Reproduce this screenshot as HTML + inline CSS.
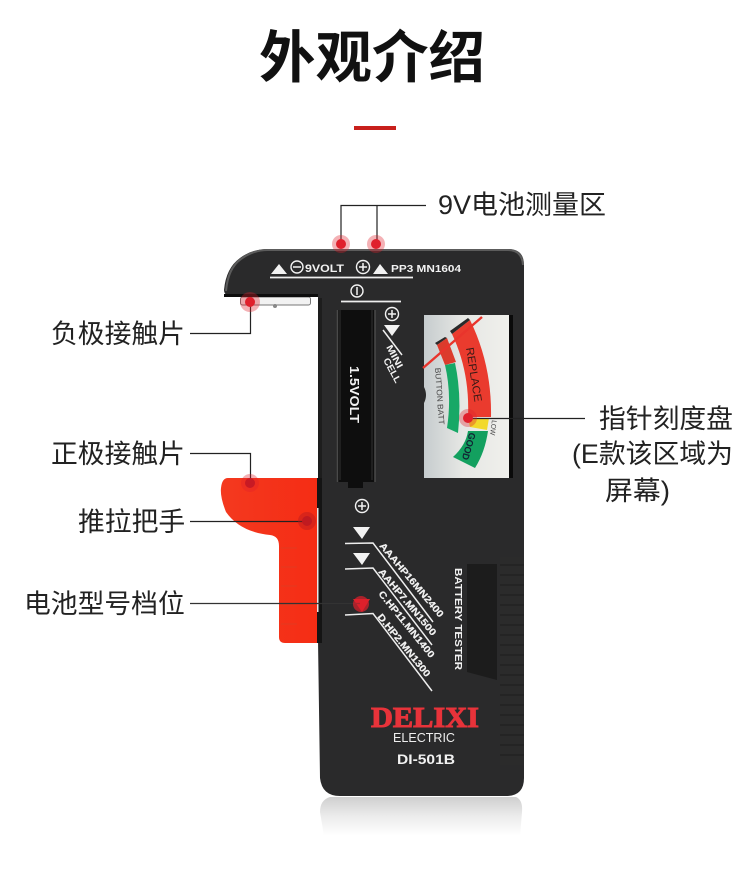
<!DOCTYPE html>
<html><head><meta charset="utf-8"><style>
html,body{margin:0;padding:0;background:#fff}
svg{display:block}
.cn{font-family:"Liberation Sans","Noto Sans CJK SC",sans-serif;fill:#222}
.w{font-family:"Liberation Sans",sans-serif;font-weight:bold;fill:#f2f2f2}
</style></head><body>
<svg width="750" height="876" viewBox="0 0 750 876" xmlns="http://www.w3.org/2000/svg">
<defs>
<linearGradient id="refl" x1="0" y1="0" x2="0" y2="1"><stop offset="0" stop-color="#cfcfcf"/><stop offset=".5" stop-color="#ececec"/><stop offset="1" stop-color="#fff"/></linearGradient>
<linearGradient id="dial" x1="0" y1="0" x2="1" y2="0"><stop offset="0" stop-color="#c6ccce"/><stop offset=".45" stop-color="#e6e7e4"/><stop offset="1" stop-color="#f0f0ec"/></linearGradient>
<linearGradient id="red" x1="0" y1="0" x2="1" y2="0"><stop offset="0" stop-color="#f4391f"/><stop offset="1" stop-color="#f52c14"/></linearGradient>
</defs>

<text x="372" y="77" text-anchor="middle" class="cn" style="font-size:56.500px;font-weight:bold;fill:#111">外观介绍</text>
<rect x="354" y="126" width="42" height="4" fill="#c8201c"/>

<!-- reflection -->
<path d="M330,797 H516 Q523,800 522,812 L520,836 H324 L320,812 Q320,800 330,797 Z" fill="url(#refl)"/>

<!-- contact -->
<rect x="240.500" y="297" width="70" height="8" rx="2" fill="#f2f2f2" stroke="#777" stroke-width="1"/>
<circle cx="275" cy="306" r="2" fill="#888"/>

<!-- handle -->
<path d="M228,478 L320,478 L320,643 L285,643 Q279,643 279,637 L279,546 Q279,536 270,535 Q240,532 226,512 Q220,497 221,488 Q222,478 228,478 Z" fill="url(#red)"/>
<path d="M281,548 H297 M281,567 H297 M281,586 H297 M281,605 H297 M281,624 H297" stroke="#e23a20" stroke-width="1" fill="none"/>

<!-- body -->
<path d="M268,249 H508 Q524,249 524,265 V778 Q524,796 506,796 H340 Q322,796 320,778 L318,640 L318,297 H236 Q224,297 224,290 Q226,268 240,258 Q252,249 268,249 Z" fill="#2a2a2b"/>
<path d="M226,291 Q228,268 241,259 Q253,250 268,250 H508 Q522,250 523,265" fill="none" stroke="#5c5c5c" stroke-width="2"/>
<rect x="224" y="294" width="94" height="3" fill="#0d0d0d"/>
<rect x="318" y="298" width="4" height="180" fill="#1d1d1d"/>
<rect x="317" y="478" width="5" height="165" fill="#141414"/>
<rect x="317" y="508" width="1.500" height="104" fill="#e8e8e8"/>

<!-- ribs -->
<g stroke="#1c1c1c" stroke-width="1">
<rect x="500" y="557" width="24" height="208" fill="#2b2b2b" stroke="none"/>
<path d="M500,565H524M500,575H524M500,585H524M500,595H524M500,605H524M500,615H524M500,625H524M500,635H524M500,645H524M500,655H524M500,665H524M500,675H524M500,685H524M500,695H524M500,705H524M500,715H524M500,725H524M500,735H524M500,745H524M500,755H524"/>
</g>
<path d="M467,564 H497 V680 L467,672 Z" fill="#1c1c1c"/>

<!-- slot -->
<rect x="337" y="310" width="38" height="172" fill="#0e0e0e"/>
<path d="M337.500,310 V482 M375,310 V482" stroke="#4a4a4a" stroke-width="1.500"/>
<path d="M340,310 V480 M372,310 V480" stroke="#333" stroke-width="1"/>
<rect x="348" y="482" width="15" height="6" fill="#0e0e0e"/>
<text transform="translate(350,366) rotate(90)" class="w" style="font-size:13px" textLength="57" lengthAdjust="spacingAndGlyphs">1.5VOLT</text>

<!-- top labels -->
<path d="M271,274 H287 L279,264 Z M373,274 H388 L380,264 Z" fill="#f2f2f2"/>
<circle cx="297" cy="267" r="6" fill="none" stroke="#f2f2f2" stroke-width="1.400"/><path d="M293,267 H301" stroke="#f2f2f2" stroke-width="1.500"/>
<text x="305" y="272" class="w" style="font-size:11px" textLength="39" lengthAdjust="spacingAndGlyphs">9VOLT</text>
<circle cx="363" cy="267" r="6.500" fill="none" stroke="#f2f2f2" stroke-width="1.400"/><path d="M359,267 H367 M363,263 V271" stroke="#f2f2f2" stroke-width="1.500"/>
<text x="391" y="272" class="w" style="font-size:10.500px" textLength="70" lengthAdjust="spacingAndGlyphs">PP3 MN1604</text>
<path d="M270,277.500 H413" stroke="#eee" stroke-width="1.800"/>
<circle cx="357" cy="291" r="6" fill="none" stroke="#f2f2f2" stroke-width="1.400"/><path d="M357,287 V295" stroke="#f2f2f2" stroke-width="1.500"/>
<path d="M341,301.500 H401" stroke="#eee" stroke-width="1.800"/>
<circle cx="392" cy="314" r="6.500" fill="none" stroke="#f2f2f2" stroke-width="1.400"/><path d="M388,314 H396 M392,310 V318" stroke="#f2f2f2" stroke-width="1.500"/>
<path d="M384,325 H400 L392,336 Z" fill="#f2f2f2"/>
<path d="M383,330 L402,355" stroke="#eee" stroke-width="1.500"/>
<text transform="translate(386,347) rotate(62)" class="w" style="font-size:9.500px" textLength="25" lengthAdjust="spacingAndGlyphs">MINI</text>
<text transform="translate(383,360) rotate(62)" class="w" style="font-size:9.500px" textLength="27" lengthAdjust="spacingAndGlyphs">CELL</text>

<!-- dial -->
<rect x="424" y="315" width="86" height="163" fill="url(#dial)"/>
<rect x="509" y="315" width="4" height="163" fill="#0a0a0a"/>
<path d="M424,387 Q428,395 424,403 Z" fill="#2a2a2a"/>
<path d="M452,334 L470,320 Q492,365 491,417 L468,417 Q470,372 452,334 Z" fill="#ea3b2e"/>
<path d="M452,334 L450,331 L468,318 L470,320 Z" fill="#2a2a2a"/>
<path d="M437,345 L435,343 L445,337 L447,338 Z" fill="#2a2a2a"/>
<path d="M468,418 L489,418 L487,430 L470,427 Z" fill="#f2d92c"/>
<path d="M468,431 L488,431 Q485,452 475,468 L453,457 Q466,445 468,431 Z" fill="#13a05f"/>
<path d="M437,345 L447,338 L456,362 L445,365 Z" fill="#dc3b2c"/>
<path d="M445,365 L455,363 Q462,395 458,433 L447,428 Q452,395 445,365 Z" fill="#17a866"/>
<path d="M423,368 L482,317" stroke="#e9342c" stroke-width="2.400"/>
<text transform="translate(466,348) rotate(81)" style="font:11px 'Liberation Sans',sans-serif;fill:#3a1a16" textLength="55" lengthAdjust="spacingAndGlyphs">REPLACE</text>
<text transform="translate(469.500,432) rotate(106)" style="font:bold 9.500px 'Liberation Sans',sans-serif;fill:#123" textLength="28" lengthAdjust="spacingAndGlyphs">GOOD</text>
<text transform="translate(435,368) rotate(86)" style="font:8px 'Liberation Sans',sans-serif;fill:#444" textLength="57" lengthAdjust="spacingAndGlyphs">BUTTON BATT</text>
<text transform="translate(492,420) rotate(97)" style="font:7px 'Liberation Sans',sans-serif;fill:#444" textLength="15" lengthAdjust="spacingAndGlyphs">LOW</text>

<!-- lower labels -->
<circle cx="362" cy="506" r="6.500" fill="none" stroke="#f2f2f2" stroke-width="1.400"/><path d="M358,506 H366 M362,502 V510" stroke="#f2f2f2" stroke-width="1.500"/>
<path d="M353,527 H370 L362,539 Z M353,553 H370 L362,565 Z" fill="#f2f2f2"/>
<path d="M353,599 H370 L362,612 Z" fill="#d8242a"/>
<g fill="none" stroke="#eee" stroke-width="1.500">
<path d="M345,543.500 L373,543 L433,622"/>
<path d="M345,569 L373,568 L432,645"/>
<path d="M345,615 L373,613.500 L432,691"/>
</g>
<text transform="translate(379,546) rotate(50)" class="w" style="font-size:9.500px;stroke:#f2f2f2;stroke-width:.2" textLength="94" lengthAdjust="spacingAndGlyphs">AAAHP16MN2400</text>
<text transform="translate(378,572) rotate(50)" class="w" style="font-size:9.500px;stroke:#f2f2f2;stroke-width:.2" textLength="84" lengthAdjust="spacingAndGlyphs">AAHP7.MN1500</text>
<text transform="translate(378,594) rotate(51)" class="w" style="font-size:9.500px;stroke:#f2f2f2;stroke-width:.2" textLength="83" lengthAdjust="spacingAndGlyphs">C.HP11.MN1400</text>
<text transform="translate(377,617) rotate(51)" class="w" style="font-size:9.500px;stroke:#f2f2f2;stroke-width:.2" textLength="78" lengthAdjust="spacingAndGlyphs">D.HP2.MN1300</text>
<text transform="translate(455,568) rotate(90)" class="w" style="font-size:10.500px" textLength="102" lengthAdjust="spacingAndGlyphs">BATTERY TESTER</text>

<text x="371" y="727" style="font:bold 29px 'Liberation Serif',serif;fill:#e8333a;stroke:#e8333a;stroke-width:1" textLength="108" lengthAdjust="spacingAndGlyphs">DELIXI</text>
<text x="393" y="742" style="font:12.500px 'Liberation Sans',sans-serif;fill:#eee" textLength="62" lengthAdjust="spacingAndGlyphs">ELECTRIC</text>
<text x="397" y="764" class="w" style="font-size:14px" textLength="58" lengthAdjust="spacingAndGlyphs">DI-501B</text>

<!-- leader lines -->
<g fill="none" stroke="#222" stroke-width="1.200">
<path d="M341,240 V205.500 H426 M377,205.500 V240"/>
<path d="M190,333.500 H250.500 V303"/>
<path d="M190,453.500 H250.500 V482"/>
<path d="M190,521.500 H307"/>
<path d="M190,603.500 H360" stroke="#333"/>
<path d="M468,418.500 H585"/>
</g>

<!-- dots -->
<g fill="#e0202c">
<circle cx="341" cy="244" r="9" opacity=".35"/><circle cx="341" cy="244" r="5"/>
<circle cx="376" cy="244" r="9" opacity=".35"/><circle cx="376" cy="244" r="5"/>
<circle cx="250" cy="302" r="10" opacity=".35"/><circle cx="250" cy="302" r="5"/>
<circle cx="250" cy="483" r="9" opacity=".35"/><circle cx="250" cy="483" r="5" fill="#c81a24"/>
<circle cx="307" cy="521" r="9" fill="#b81a20" opacity=".45"/><circle cx="307" cy="521" r="5" fill="#c01a20"/>
<circle cx="361" cy="604" r="8" opacity=".7"/>
<circle cx="468" cy="418" r="9" opacity=".35"/><circle cx="468" cy="418" r="5"/>
</g>

<!-- callouts -->
<g class="cn" style="font-size:26.800px">
<text x="438" y="214" textLength="168" lengthAdjust="spacingAndGlyphs">9V电池测量区</text>
<text x="51" y="343">负极接触片</text>
<text x="51" y="463">正极接触片</text>
<text x="78" y="531">推拉把手</text>
<text x="24" y="613">电池型号档位</text>
<text x="599" y="428">指针刻度盘</text>
<text x="572" y="463" textLength="161" lengthAdjust="spacingAndGlyphs">(E款该区域为</text>
<text x="605" y="500" textLength="65" lengthAdjust="spacingAndGlyphs">屏幕)</text>
</g>
</svg>
</body></html>
